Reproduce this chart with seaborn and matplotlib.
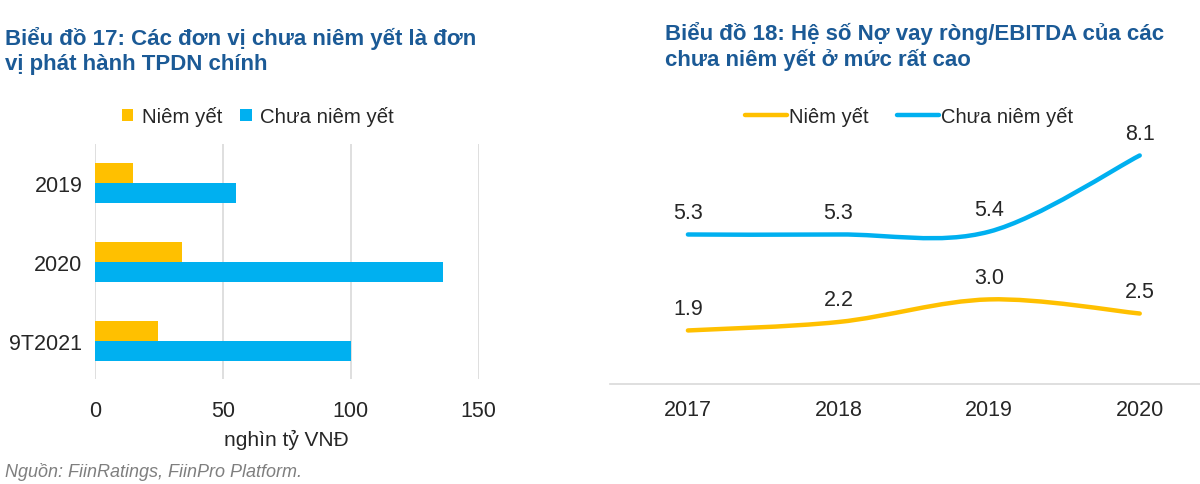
import numpy as np
import pandas as pd
import seaborn as sns
import matplotlib.pyplot as plt
from matplotlib.path import Path
from matplotlib.patches import PathPatch
from matplotlib.lines import Line2D

# chart 17 data
periods = ["2019", "2020", "9T2021"]
listed_issue = [15, 34, 24.5]
unlisted_issue = [55, 136, 100]

# chart 18 data
years = ["2017", "2018", "2019", "2020"]
listed_ratio = [1.9, 2.2, 3.0, 2.5]
unlisted_ratio = [5.3, 5.3, 5.4, 8.1]

groups = ["Niêm yết", "Chưa niêm yết"]
YELLOW = "#FFC000"
BLUE = "#00B0F0"
TITLE_C = "#1B5A96"

sns.set_theme(style="white")
plt.rcParams['font.family'] = ['Liberation Sans', 'DejaVu Sans']

fig = plt.figure(figsize=(12, 4.85), dpi=100)

fig.text(0.004, 0.944, "Biểu đồ 17: Các đơn vị chưa niêm yết là đơn\nvị phát hành TPDN chính",
         color=TITLE_C, fontsize=16, fontweight="bold", va="top", linespacing=1.25)
fig.text(0.554, 0.955, "Biểu đồ 18: Hệ số Nợ vay ròng/EBITDA của các\nchưa niêm yết ở mức rất cao",
         color=TITLE_C, fontsize=16, fontweight="bold", va="top", linespacing=1.25)
fig.text(0.004, 0.016, "Nguồn: FiinRatings, FiinPro Platform.", color="#7F7F7F",
         fontsize=13, style="italic")

# ---- bar chart
ax1 = fig.add_axes([0.079, 0.2165, 0.32, 0.4845])
df1 = pd.DataFrame({
    "period": periods * 2,
    "value": listed_issue + unlisted_issue,
    "group": [groups[0]] * 3 + [groups[1]] * 3,
})
sns.barplot(data=df1, y="period", x="value", hue="group", hue_order=groups,
            palette=[YELLOW, BLUE], width=0.51, orient="h", ax=ax1,
            saturation=1, edgecolor="none")
ax1.set_xlim(0, 150)
ax1.set_ylim(2.48, -0.49)
ax1.set_xticks([0, 50, 100, 150])
ax1.grid(axis="x", color="#D9D9D9", linewidth=1.2)
ax1.set_axisbelow(True)
for s in ax1.spines.values():
    s.set_visible(False)
ax1.set_ylabel("")
ax1.set_xlabel("nghìn tỷ VNĐ", fontsize=15, labelpad=6)
ax1.tick_params(axis="x", labelsize=15.5, length=0, pad=15)
ax1.tick_params(axis="y", labelsize=15.5, length=0, pad=9)
ax1.legend(loc="lower left", bbox_to_anchor=(0.05, 1.04), ncol=2, frameon=False,
           fontsize=14.7, handlelength=0.55, handleheight=0.55, handletextpad=0.4,
           columnspacing=0.9, borderaxespad=0)

# ---- line chart
ax2 = fig.add_axes([0.508, 0.206, 0.497, 0.582])


def smooth_path(xs, ys):
    # Excel-like smoothed line: Catmull-Rom segments as cubic Bezier
    pts = np.column_stack([xs, ys]).astype(float)
    ext = np.vstack([pts[0], pts, pts[-1]])
    verts = [pts[0]]
    codes = [Path.MOVETO]
    for i in range(1, len(ext) - 2):
        p0, p1, p2, p3 = ext[i - 1], ext[i], ext[i + 1], ext[i + 2]
        verts += [p1 + (p2 - p0) / 6, p2 - (p3 - p1) / 6, p2]
        codes += [Path.CURVE4] * 3
    return Path(verts, codes)


xpos = np.arange(len(years))
for vals, col in [(listed_ratio, YELLOW), (unlisted_ratio, BLUE)]:
    ax2.add_patch(PathPatch(smooth_path(xpos, vals), facecolor="none", edgecolor=col,
                            linewidth=3.2, capstyle="round"))
    for x, v in zip(xpos, vals):
        ax2.annotate(f"{v:.1f}", (x, v), xytext=(0, 16), textcoords="offset points",
                     ha="center", va="center", fontsize=15.5)

ax2.set_xlim(-0.52, 3.44)
ax2.set_ylim(0, 10)
ax2.set_xticks(xpos)
ax2.set_xticklabels(years)
ax2.set_yticks([])
for k in ["top", "right", "left"]:
    ax2.spines[k].set_visible(False)
ax2.spines["bottom"].set_color("#D9D9D9")
ax2.spines["bottom"].set_linewidth(1.2)
ax2.tick_params(axis="x", labelsize=15.5, length=0, pad=11)
handles = [Line2D([], [], color=YELLOW, lw=3.2), Line2D([], [], color=BLUE, lw=3.2)]
ax2.legend(handles, groups, loc="center", bbox_to_anchor=(0.502, 0.95), ncol=2,
           frameon=False, fontsize=14.5, handlelength=2.1, handletextpad=0.1,
           columnspacing=1.4)

fig.savefig("out.png", dpi=100)
